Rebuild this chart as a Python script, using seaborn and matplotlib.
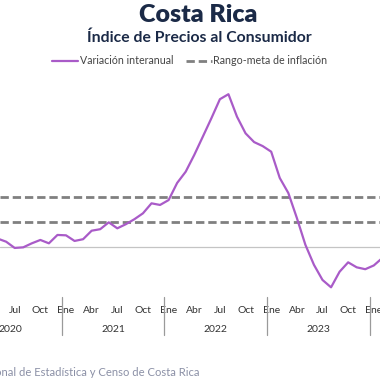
import matplotlib
matplotlib.use("Agg")
import matplotlib.pyplot as plt
import matplotlib.transforms as mtransforms
import seaborn as sns
import pandas as pd
import numpy as np

# ---- data (monthly, May 2020 .. Feb 2024) ----
start_month = "2020-05"
inflacion = [0.65, 0.40, -0.10, -0.05, 0.27, 0.54, 0.27, 0.94,
             0.91, 0.46, 0.60, 1.28, 1.40, 1.95, 1.47, 1.80, 2.20, 2.67, 3.47, 3.34,
             3.73, 5.10, 6.00, 7.34, 8.80, 10.27, 11.80, 12.20, 10.40, 9.07, 8.37, 8.05,
             7.60, 5.50, 4.30, 2.30, 0.15, -1.45, -2.66, -3.25, -2.00, -1.25, -1.65, -1.80,
             -1.50, -0.90]
meta_inferior = 2.0
meta_superior = 4.0
mes_labels = {1: "Ene", 4: "Abr", 7: "Jul", 10: "Oct"}
years = [2020, 2021, 2022, 2023]
year_separators = [2021, 2022, 2023, 2024]

title = "Costa Rica"
subtitle = "Índice de Precios al Consumidor"
serie_label = "Variación interanual"
meta_label = "Rango-meta de inflación"
source = "Fuente: Instituto Nacional de Estadística y Censo de Costa Rica"

periods = pd.period_range(start=start_month, periods=len(inflacion), freq="M")
# month index relative to Jan 2021
idx = np.array([(p.year - 2021) * 12 + (p.month - 1) for p in periods])
df = pd.DataFrame({"m": idx, "v": inflacion})

sns.set_theme(style="white")
plt.rcParams["font.family"] = ["Lato", "DejaVu Sans"]

W = H = 380
fig = plt.figure(figsize=(3.8, 3.8), dpi=100)
top_px, bot_px = 80, 292
ax = fig.add_axes([0, 1 - bot_px / H, 1, (bot_px - top_px) / H])

purple = "#a95bc8"
gray_dash = "#808080"

sns.lineplot(data=df, x="m", y="v", ax=ax, color=purple, linewidth=1.6,
             label=serie_label, legend=False)
for k, val in enumerate([meta_inferior, meta_superior]):
    ax.axhline(val, color=gray_dash, linewidth=2.0, dashes=(3, 1.4),
               label=meta_label if k == 0 else None, zorder=1)
ax.axhline(0, color="#c4c4c4", linewidth=0.9, zorder=0)

ax.set_xlim(-66 / 8.55, (W - 66) / 8.55)
ax.set_ylim((246.7 - bot_px) / 12.5, (246.7 - top_px) / 12.5)
for s in ax.spines.values():
    s.set_visible(False)
ax.set_yticks([])
ax.set_xlabel("")
ax.set_ylabel("")

tick_pos, tick_lab = [], []
for p, m in zip(periods, idx):
    if p.month in mes_labels:
        tick_pos.append(m)
        tick_lab.append(mes_labels[p.month])
ax.set_xticks(tick_pos)
ax.set_xticklabels(tick_lab, fontsize=7.5, color="#333333")
ax.tick_params(axis="x", length=0, pad=10)

trans = mtransforms.blended_transform_factory(ax.transData, fig.transFigure)
for y in years:
    mid = (y - 2021) * 12 + 5.5
    ax.text(mid, 1 - 329 / H, str(y), transform=trans, ha="center", va="center",
            fontsize=7.5, color="#333333", clip_on=False)
for y in year_separators:
    sep = (y - 2021) * 12 - 0.5
    ax.plot([sep, sep], [1 - 297 / H, 1 - 335 / H], transform=trans,
            color="#9a9a9a", linewidth=0.9, clip_on=False)

fig.text(198 / W, 1 - 15 / H, title, ha="center", va="center", fontsize=18,
         fontweight="heavy", color="#1b2a47")
fig.text(199 / W, 1 - 38 / H, subtitle, ha="center", va="center", fontsize=11.3,
         fontweight="bold", color="#1b2a47")

handles, labels = ax.get_legend_handles_labels()
leg = fig.legend(handles, labels, loc="center", bbox_to_anchor=(0.5, 1 - 61 / H),
                 ncol=2, frameon=False, fontsize=7.7, handlelength=2.4,
                 handletextpad=0.15, columnspacing=1.2)
for t in leg.get_texts():
    t.set_color("#444444")

fig.text(199 / W, 1 - 372 / H, source, ha="right", va="center", fontsize=8.1,
         color="#8b90a6")

fig.savefig("out.png", dpi=100)
